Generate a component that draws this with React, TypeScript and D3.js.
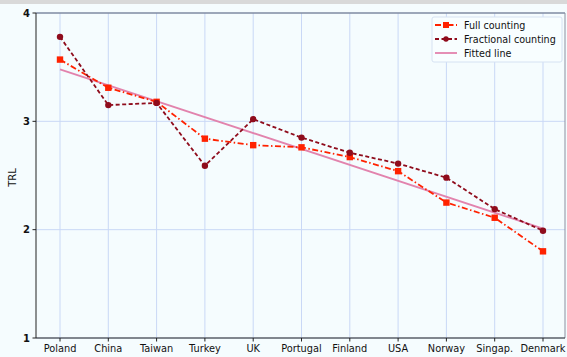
import React from "react";
import * as d3 from "d3";

const countries = ["Poland", "China", "Taiwan", "Turkey", "UK", "Portugal", "Finland", "USA", "Norway", "Singap.", "Denmark"];
const fullCounting = [3.57, 3.31, 3.18, 2.84, 2.78, 2.76, 2.67, 2.54, 2.25, 2.11, 1.80];
const fractionalCounting = [3.78, 3.15, 3.17, 2.59, 3.02, 2.85, 2.71, 2.61, 2.48, 2.19, 1.99];
const fittedEnds = [3.48, 2.01];
const yTicks = [1, 2, 3, 4];
const legendLabels = ["Full counting", "Fractional counting", "Fitted line"];

const W = 567, H = 357;
const left = 36, right = 565, top = 13, bottom = 338;
const FONT = "DejaVu Sans, sans-serif";

export default function App() {
  const x = d3.scalePoint<string>().domain(countries).range([60, 543]);
  const y = d3.scaleLinear().domain([1, 4]).range([bottom, top]);
  const line = d3.line<number>().x((_, i) => x(countries[i])!).y((d) => y(d));
  const fitLine = d3.line<number>()
    .x((_, i) => x(countries[i === 0 ? 0 : countries.length - 1])!)
    .y((d) => y(d));

  const red = "#ff2200";
  const dark = "#8f0c1c";
  const pink = "#e283ad";

  return (
    <svg width={W} height={H} style={{ position: "absolute", left: 0, top: 0, fontFamily: FONT }}>
      <rect x={0} y={0} width={W} height={H} fill="#f5fcfe" />
      <rect x={0} y={0} width={W} height={4} fill="#d9d9d9" />
      {/* grid */}
      {countries.map((c) => (
        <line key={c} x1={x(c)} x2={x(c)} y1={top} y2={bottom} stroke="#c9d8f6" strokeWidth={1} />
      ))}
      {yTicks.map((t) => (
        <line key={t} x1={left} x2={right} y1={y(t)} y2={y(t)} stroke="#c9d8f6" strokeWidth={1} />
      ))}
      {/* spines */}
      <line x1={left} x2={right} y1={top} y2={top} stroke="#5a6478" strokeWidth={1} />
      <line x1={right} x2={right} y1={top} y2={bottom} stroke="#8a90a0" strokeWidth={1} />
      <line x1={left} x2={right} y1={bottom} y2={bottom} stroke="#222" strokeWidth={1} />
      <line x1={left} x2={left} y1={top} y2={bottom} stroke="#222" strokeWidth={1} />
      {/* ticks */}
      {countries.map((c) => (
        <g key={c}>
          <line x1={x(c)} x2={x(c)} y1={bottom} y2={bottom + 3.5} stroke="#222" />
          <text x={x(c)} y={352} fontSize={9.8} textAnchor="middle" fill="#111">{c}</text>
        </g>
      ))}
      {yTicks.map((t) => (
        <g key={t}>
          <line x1={left - 3.5} x2={left} y1={y(t)} y2={y(t)} stroke="#222" />
          <text x={left - 6} y={y(t) + 3.5} fontSize={10} textAnchor="end" fill="#111" fontWeight="bold">{t}</text>
        </g>
      ))}
      <text transform={`translate(16,${(top + bottom) / 2 + 2}) rotate(-90)`} fontSize={10} textAnchor="middle" fill="#111">TRL</text>
      {/* fitted */}
      <path d={fitLine(fittedEnds)!} fill="none" stroke={pink} strokeWidth={1.8} />
      {/* full counting */}
      <path d={line(fullCounting)!} fill="none" stroke={red} strokeWidth={1.8} strokeDasharray="6 2.5 1.5 2.5" />
      {fullCounting.map((v, i) => (
        <rect key={i} x={x(countries[i])! - 3.2} y={y(v) - 3.2} width={6.4} height={6.4} fill={red} />
      ))}
      {/* fractional */}
      <path d={line(fractionalCounting)!} fill="none" stroke={dark} strokeWidth={1.8} strokeDasharray="4 2.5" />
      {fractionalCounting.map((v, i) => (
        <circle key={i} cx={x(countries[i])!} cy={y(v)} r={3.2} fill={dark} />
      ))}
      {/* legend */}
      <rect x={432} y={17} width={130} height={45} fill="#f8feff" stroke="#d6e2f2" rx={2} />
      {legendLabels.map((lab, i) => {
        const ly = 25 + i * 14;
        return (
          <g key={lab}>
            {i === 0 && (
              <>
                <line x1={435} x2={457} y1={ly} y2={ly} stroke={red} strokeWidth={1.8} strokeDasharray="6 2.5 1.5 2.5" />
                <rect x={443} y={ly - 3} width={6} height={6} fill={red} />
              </>
            )}
            {i === 1 && (
              <>
                <line x1={435} x2={457} y1={ly} y2={ly} stroke={dark} strokeWidth={1.8} strokeDasharray="4 2.5" />
                <circle cx={446} cy={ly} r={2.7} fill={dark} />
              </>
            )}
            {i === 2 && <line x1={435} x2={457} y1={ly} y2={ly} stroke={pink} strokeWidth={1.8} />}
            <text x={464} y={ly + 3.5} fontSize={9.6} fill="#111">{lab}</text>
          </g>
        );
      })}
    </svg>
  );
}
